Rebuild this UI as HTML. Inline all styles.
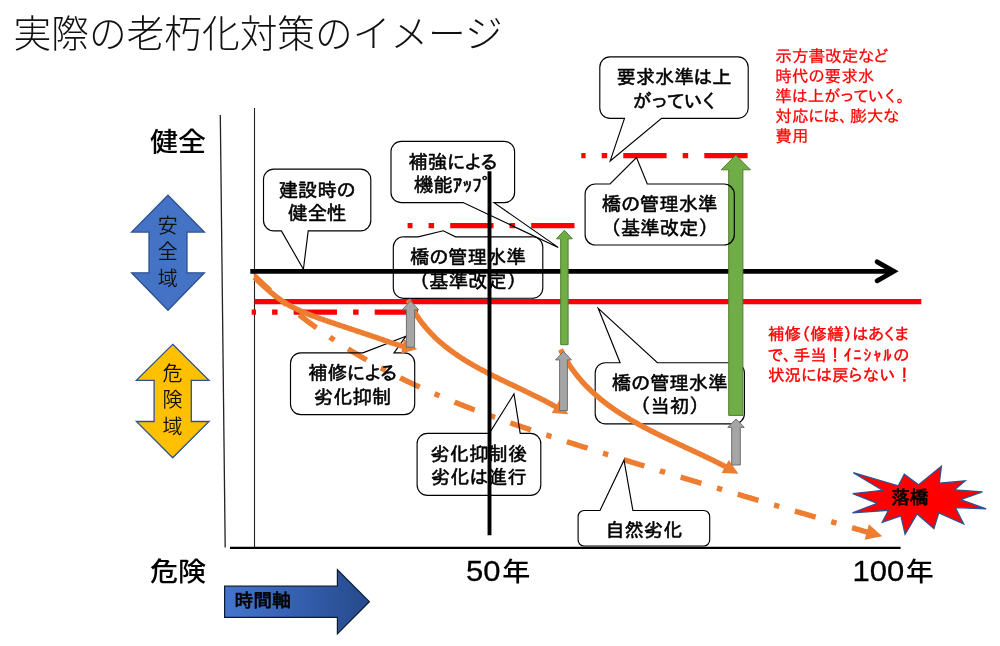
<!DOCTYPE html>
<html lang="ja"><head><meta charset="utf-8"><title>実際の老朽化対策のイメージ</title>
<style>
html,body{margin:0;padding:0;background:#fff;}
body{width:1000px;height:646px;overflow:hidden;font-family:"Liberation Sans","Noto Sans CJK JP",sans-serif;}
svg{display:block;filter:opacity(1);}
</style></head><body>
<svg width="1000" height="646" viewBox="0 0 1000 646">
<defs>
<linearGradient id="tg" x1="0" y1="0" x2="1" y2="0"><stop offset="0" stop-color="#4475CC"/><stop offset="0.5" stop-color="#3560B0"/><stop offset="1" stop-color="#25498A"/></linearGradient>
</defs>
<rect width="1000" height="646" fill="#fff"/>
<text x="13.5" y="46.5" font-size="37.7" font-weight="300" text-anchor="start" fill="#111" font-family='"Liberation Sans","Noto Sans CJK JP",sans-serif' >実際の老朽化対策のイメージ</text>
<line x1="220.3" y1="115" x2="225.2" y2="547.5" stroke="#222" stroke-width="1.3"/>
<line x1="254.5" y1="108" x2="254.5" y2="548" stroke="#222" stroke-width="1.1"/>
<line x1="230" y1="547.9" x2="900.6" y2="547.9" stroke="#000" stroke-width="2.2"/>
<text transform="translate(178,151.2) scale(1,0.935)" font-size="28" font-weight="500" text-anchor="middle" fill="#000" font-family='"Liberation Sans","Noto Sans CJK JP",sans-serif'>健全</text>
<text transform="translate(178,580.8) scale(1,0.935)" font-size="28" font-weight="500" text-anchor="middle" fill="#000" font-family='"Liberation Sans","Noto Sans CJK JP",sans-serif'>危険</text>
<text transform="translate(466.0,580.8) scale(1.04,1)" font-size="29.8" fill="#000" stroke="#000" stroke-width="0.3" font-family='"Liberation Sans","Noto Sans CJK JP",sans-serif'>50</text>
<text transform="translate(502.3,581.0) scale(1,0.935)" font-size="28" font-weight="500" text-anchor="start" fill="#000" font-family='"Liberation Sans","Noto Sans CJK JP",sans-serif'>年</text>
<text transform="translate(852.6,580.8) scale(1.04,1)" font-size="29.8" fill="#000" stroke="#000" stroke-width="0.3" font-family='"Liberation Sans","Noto Sans CJK JP",sans-serif'>100</text>
<text transform="translate(905.8,581.0) scale(1,0.935)" font-size="28" font-weight="500" text-anchor="start" fill="#000" font-family='"Liberation Sans","Noto Sans CJK JP",sans-serif'>年</text>
<line x1="254.5" y1="301.6" x2="921.3" y2="301.6" stroke="#FF0000" stroke-width="5.4"/>
<line x1="418" y1="312.2" x2="251.7" y2="312.2" stroke="#FF0000" stroke-width="5.3" stroke-dasharray="43.3 16.1 5.5 16.1"/>
<line x1="574.5" y1="225.6" x2="407.6" y2="225.6" stroke="#FF0000" stroke-width="5.3" stroke-dasharray="43.3 16.1 5.5 16.1"/>
<line x1="747.6" y1="155.7" x2="581.3" y2="155.7" stroke="#FF0000" stroke-width="5.3" stroke-dasharray="43.3 16.1 5.5 16.1"/>
<path d="M254.0,277.0 L255.6,276.7 L256.4,277.5 L257.2,278.3 L258.0,279.1 L258.9,279.9 L259.7,280.7 L260.5,281.5 L261.4,282.3 L262.2,283.1 L263.0,283.9 L263.9,284.6 L264.7,285.4 L265.6,286.2 L266.4,287.0 L267.2,287.8 L268.1,288.6 L268.9,289.3 L269.8,290.1 L270.6,290.9 L271.5,291.7 L272.3,292.4 L273.2,293.2 L274.1,294.0 L274.9,294.7 L275.8,295.5 L276.6,296.2 L277.5,297.0 L278.4,297.8 L279.2,298.5 L280.1,299.3 L281.0,300.0 L281.9,300.8 L282.7,301.5 L283.6,302.2 L284.5,303.0 L285.4,303.7 L286.2,304.5 L287.1,305.2 L288.0,305.9 L288.9,306.6 L289.8,307.4 L290.7,308.1 L291.6,308.8 L292.5,309.5 L293.3,310.3 L294.2,311.0 L295.1,311.7 L296.0,312.4 L296.9,313.1 L297.8,313.8 L298.7,314.5 L299.6,315.2 L300.5,315.9 L301.4,316.6 L302.4,317.3 L303.3,318.0 L304.2,318.7 L305.1,319.4 L306.0,320.1 L306.9,320.8 L307.8,321.5 L308.8,322.2 L309.7,322.9 L310.6,323.5 L311.5,324.2 L312.4,324.9 L313.4,325.6 L314.3,326.2 L315.2,326.9 L316.1,327.6 L317.1,328.3 L318.0,328.9 L318.9,329.6 L319.9,330.2 L320.8,330.9 L321.8,331.6 L322.7,332.2 L323.6,332.9 L324.6,333.5 L325.5,334.2 L326.5,334.8 L327.4,335.5 L328.4,336.1 L329.3,336.7 L330.2,337.4 L331.2,338.0 L332.1,338.7 L333.1,339.3 L334.1,339.9 L335.0,340.5 L336.0,341.2 L336.9,341.8 L337.9,342.4 L338.8,343.0 L339.8,343.7 L340.8,344.3 L341.7,344.9 L342.7,345.5 L343.7,346.1 L344.6,346.7 L345.6,347.4 L346.6,348.0 L347.5,348.6 L348.5,349.2 L349.5,349.8 L350.5,350.4 L351.4,351.0 L352.4,351.6 L353.4,352.2 L354.4,352.7 L355.3,353.3 L356.3,353.9 L357.3,354.5 L358.3,355.1 L359.3,355.7 L360.3,356.3 L361.3,356.8 L362.2,357.4 L363.2,358.0 L364.2,358.6 L365.2,359.1 L366.2,359.7 L367.2,360.3 L368.2,360.8 L369.2,361.4 L370.2,362.0 L371.2,362.5 L372.2,363.1 L373.2,363.6 L374.2,364.2 L375.2,364.7 L376.2,365.3 L377.2,365.8 L378.2,366.4 L379.2,366.9 L380.2,367.5 L381.2,368.0 L382.2,368.6 L383.2,369.1 L384.2,369.6 L385.2,370.2 L386.3,370.7 L387.3,371.2 L388.3,371.8 L389.3,372.3 L390.3,372.8 L391.3,373.3 L392.3,373.9 L393.4,374.4 L394.4,374.9 L395.4,375.4 L396.4,375.9 L397.4,376.4 L398.5,377.0 L399.5,377.5 L400.5,378.0 L401.5,378.5 L402.6,379.0 L403.6,379.5 L404.6,380.0 L405.7,380.5 L406.7,381.0 L407.7,381.5 L408.7,382.0 L409.8,382.5 L410.8,383.0 L411.8,383.4 L412.9,383.9 L413.9,384.4 L414.9,384.9 L416.0,385.4 L417.0,385.9 L418.1,386.3 L419.1,386.8 L420.1,387.3 L421.2,387.8 L422.2,388.2 L423.3,388.7 L424.3,389.2 L425.3,389.6 L426.4,390.1 L427.4,390.6 L428.5,391.0 L429.5,391.5 L430.6,392.0 L431.6,392.4 L432.7,392.9 L433.7,393.3 L434.8,393.8 L435.8,394.2 L436.9,394.7 L437.9,395.1 L439.0,395.6 L440.0,396.0 L441.1,396.5 L442.1,396.9 L443.2,397.4 L444.2,397.8 L445.3,398.3 L446.3,398.7 L447.4,399.1 L448.5,399.6 L449.5,400.0 L450.6,400.4 L451.6,400.9 L452.7,401.3 L453.8,401.7 L454.8,402.2 L455.9,402.6 L456.9,403.0 L458.0,403.4 L459.1,403.9 L460.1,404.3 L461.2,404.7 L462.3,405.1 L463.3,405.5 L464.4,406.0 L465.5,406.4 L466.5,406.8 L467.6,407.2 L468.7,407.6 L469.7,408.0 L470.8,408.4 L471.9,408.9 L472.9,409.3 L474.0,409.7 L475.1,410.1 L476.1,410.5 L477.2,410.9 L478.3,411.3 L479.4,411.7 L480.4,412.1 L481.5,412.5 L482.6,412.9 L483.7,413.3 L484.7,413.7 L485.8,414.1 L486.9,414.5 L488.0,414.9 L489.0,415.3 L490.1,415.7 L491.2,416.1 L492.3,416.4 L493.4,416.8 L494.4,417.2 L495.5,417.6 L496.6,418.0 L497.7,418.4 L498.7,418.8 L499.8,419.2 L500.9,419.5 L502.0,419.9 L503.1,420.3 L504.2,420.7 L505.2,421.1 L506.3,421.4 L507.4,421.8 L508.5,422.2 L509.6,422.6 L510.7,423.0 L511.7,423.3 L512.8,423.7 L513.9,424.1 L515.0,424.5 L516.1,424.8 L517.2,425.2 L518.2,425.6 L519.3,425.9 L520.4,426.3 L521.5,426.7 L522.6,427.1 L523.7,427.4 L524.8,427.8 L525.9,428.2 L526.9,428.5 L528.0,428.9 L529.1,429.3 L530.2,429.6 L531.3,430.0 L532.4,430.3 L533.5,430.7 L534.6,431.1 L535.7,431.4 L536.7,431.8 L537.8,432.2 L538.9,432.5 L540.0,432.9 L541.1,433.2 L542.2,433.6 L543.3,434.0 L544.4,434.3 L545.5,434.7 L546.6,435.0 L547.6,435.4 L548.7,435.7 L549.8,436.1 L550.9,436.5 L552.0,436.8 L553.1,437.2 L554.2,437.5 L555.3,437.9 L556.4,438.2 L557.5,438.6 L558.6,438.9 L559.6,439.3 L560.7,439.6 L561.8,440.0 L562.9,440.3 L564.0,440.7 L565.1,441.1 L566.2,441.4 L567.3,441.8 L568.4,442.1 L569.5,442.5 L570.6,442.8 L571.7,443.2 L572.8,443.5 L573.8,443.9 L574.9,444.2 L576.0,444.6 L577.1,444.9 L578.2,445.3 L579.3,445.6 L580.4,446.0 L581.5,446.3 L582.6,446.7 L583.7,447.0 L584.8,447.3 L585.9,447.7 L587.0,448.0 L588.1,448.4 L589.1,448.7 L590.2,449.1 L591.3,449.4 L592.4,449.8 L593.5,450.1 L594.6,450.5 L595.7,450.8 L596.8,451.2 L597.9,451.5 L599.0,451.9 L600.1,452.2 L601.2,452.5 L602.3,452.9 L603.4,453.2 L604.4,453.6 L605.5,453.9 L606.6,454.3 L607.7,454.6 L608.8,454.9 L609.9,455.3 L611.0,455.6 L612.1,456.0 L613.2,456.3 L614.3,456.7 L615.4,457.0 L616.5,457.3 L617.6,457.7 L618.7,458.0 L619.8,458.4 L620.9,458.7 L621.9,459.1 L623.0,459.4 L624.1,459.7 L625.2,460.1 L626.3,460.4 L627.4,460.8 L628.5,461.1 L629.6,461.4 L630.7,461.8 L631.8,462.1 L632.9,462.5 L634.0,462.8 L635.1,463.1 L636.2,463.5 L637.3,463.8 L638.4,464.2 L639.4,464.5 L640.5,464.8 L641.6,465.2 L642.7,465.5 L643.8,465.8 L644.9,466.2 L646.0,466.5 L647.1,466.9 L648.2,467.2 L649.3,467.5 L650.4,467.9 L651.5,468.2 L652.6,468.5 L653.7,468.9 L654.8,469.2 L655.9,469.5 L657.0,469.9 L658.1,470.2 L659.1,470.5 L660.2,470.9 L661.3,471.2 L662.4,471.6 L663.5,471.9 L664.6,472.2 L665.7,472.6 L666.8,472.9 L667.9,473.2 L669.0,473.6 L670.1,473.9 L671.2,474.2 L672.3,474.6 L673.4,474.9 L674.5,475.2 L675.6,475.6 L676.7,475.9 L677.8,476.2 L678.9,476.6 L680.0,476.9 L681.1,477.2 L682.1,477.6 L683.2,477.9 L684.3,478.2 L685.4,478.6 L686.5,478.9 L687.6,479.2 L688.7,479.5 L689.8,479.9 L690.9,480.2 L692.0,480.5 L693.1,480.9 L694.2,481.2 L695.3,481.5 L696.4,481.9 L697.5,482.2 L698.6,482.5 L699.7,482.9 L700.8,483.2 L701.9,483.5 L703.0,483.8 L704.1,484.2 L705.2,484.5 L706.3,484.8 L707.4,485.2 L708.4,485.5 L709.5,485.8 L710.6,486.1 L711.7,486.5 L712.8,486.8 L713.9,487.1 L715.0,487.5 L716.1,487.8 L717.2,488.1 L718.3,488.4 L719.4,488.8 L720.5,489.1 L721.6,489.4 L722.7,489.8 L723.8,490.1 L724.9,490.4 L726.0,490.7 L727.1,491.1 L728.2,491.4 L729.3,491.7 L730.4,492.0 L731.5,492.4 L732.6,492.7 L733.7,493.0 L734.8,493.3 L735.9,493.7 L737.0,494.0 L738.1,494.3 L739.2,494.7 L740.3,495.0 L741.4,495.3 L742.5,495.6 L743.6,496.0 L744.6,496.3 L745.7,496.6 L746.8,496.9 L747.9,497.3 L749.0,497.6 L750.1,497.9 L751.2,498.2 L752.3,498.6 L753.4,498.9 L754.5,499.2 L755.6,499.5 L756.7,499.9 L757.8,500.2 L758.9,500.5 L760.0,500.8 L761.1,501.1 L762.2,501.5 L763.3,501.8 L764.4,502.1 L765.5,502.4 L766.6,502.8 L767.7,503.1 L768.8,503.4 L769.9,503.7 L771.0,504.1 L772.1,504.4 L773.2,504.7 L774.3,505.0 L775.4,505.3 L776.5,505.7 L777.6,506.0 L778.7,506.3 L779.8,506.6 L780.9,507.0 L782.0,507.3 L783.1,507.6 L784.2,507.9 L785.3,508.3 L786.4,508.6 L787.5,508.9 L788.6,509.2 L789.7,509.5 L790.8,509.9 L791.9,510.2 L793.0,510.5 L794.1,510.8 L795.2,511.1 L796.3,511.5 L797.4,511.8 L798.5,512.1 L799.6,512.4 L800.7,512.8 L801.8,513.1 L802.9,513.4 L804.0,513.7 L805.1,514.0 L806.2,514.4 L807.3,514.7 L808.4,515.0 L809.5,515.3 L810.6,515.6 L811.7,516.0 L812.8,516.3 L813.9,516.6 L815.0,516.9 L816.1,517.2 L817.2,517.6 L818.3,517.9 L819.4,518.2 L820.5,518.5 L821.6,518.8 L822.7,519.2 L823.8,519.5 L824.9,519.8 L826.0,520.1 L827.1,520.4 L828.2,520.8 L829.3,521.1 L830.4,521.4 L831.5,521.7 L832.6,522.0 L833.7,522.4 L834.8,522.7 L835.9,523.0 L837.0,523.3 L838.1,523.6 L839.2,524.0 L840.3,524.3 L841.4,524.6 L842.5,524.9 L843.6,525.2 L844.7,525.6 L845.8,525.9 L846.9,526.2 L848.0,526.5 L849.1,526.8 L850.2,527.2 L851.3,527.5 L852.4,527.8 L853.5,528.1 L854.6,528.4 L855.7,528.8 L856.8,529.1 L857.9,529.4 L859.0,529.7 L860.1,530.0 L861.2,530.3 L862.3,530.7 L863.4,531.0 L864.5,531.3 L865.6,531.6 L866.8,531.9 L867.8,532.2" fill="none" stroke="#ED7D31" stroke-width="5.4" stroke-linejoin="round" stroke-dasharray="21.68 16.26 5.42 16.26"/>
<polygon points="882.2,536.2 864.7,539.7 868.9,524.2" fill="#ED7D31" stroke="none" stroke-width="0" stroke-linejoin="miter" />
<path d="M273.8,169.1 L360.5,169.1 A10.3,10.3 0 0 1 370.8,179.4 L370.8,220.6 A10.3,10.3 0 0 1 360.5,230.9 L308.2,230.9 L303.4,269.3 L281.4,230.9 L273.8,230.9 A10.3,10.3 0 0 1 263.5,220.6 L263.5,179.4 A10.3,10.3 0 0 1 273.8,169.1 Z" fill="none" stroke="#000" stroke-width="1.15" stroke-linejoin="miter" stroke-miterlimit="10"/>
<text x="317.1" y="196.7" font-size="19.36" text-anchor="middle" fill="#000" stroke="#000" stroke-width="0.55" stroke-linejoin="round" font-family='"Liberation Sans","IPAPGothic","IPAGothic","Noto Sans CJK JP",sans-serif'>建設時の</text>
<text x="317.1" y="220.0" font-size="19.36" text-anchor="middle" fill="#000" stroke="#000" stroke-width="0.55" stroke-linejoin="round" font-family='"Liberation Sans","IPAPGothic","IPAGothic","Noto Sans CJK JP",sans-serif'>健全性</text>
<path d="M401.2,141.4 L504.4,141.4 A10.2,10.2 0 0 1 514.6,151.6 L514.6,192.4 A10.2,10.2 0 0 1 504.4,202.6 L494.0,202.6 L558.2,247.4 L463.1,202.6 L401.2,202.6 A10.2,10.2 0 0 1 391.0,192.4 L391.0,151.6 A10.2,10.2 0 0 1 401.2,141.4 Z" fill="none" stroke="#000" stroke-width="1.15" stroke-linejoin="miter" stroke-miterlimit="10"/>
<text x="452.8" y="168.7" font-size="19.36" text-anchor="middle" fill="#000" stroke="#000" stroke-width="0.55" stroke-linejoin="round" font-family='"Liberation Sans","IPAPGothic","IPAGothic","Noto Sans CJK JP",sans-serif'>補強による</text>
<text x="452.8" y="192.0" font-size="19.36" text-anchor="middle" fill="#000" stroke="#000" stroke-width="0.55" stroke-linejoin="round" font-family='"Liberation Sans","IPAPGothic","IPAGothic","Noto Sans CJK JP",sans-serif'>機能ｱｯﾌﾟ</text>
<path d="M403.6,236.8 L418.2,236.8 L443.2,230.8 L455.6,236.8 L532.5,236.8 A10.2,10.2 0 0 1 542.8,247.1 L542.8,288.1 A10.2,10.2 0 0 1 532.5,298.3 L403.6,298.3 A10.2,10.2 0 0 1 393.3,288.1 L393.3,247.1 A10.2,10.2 0 0 1 403.6,236.8 Z" fill="none" stroke="#000" stroke-width="1.15" stroke-linejoin="miter" stroke-miterlimit="10"/>
<text x="468.0" y="264.2" font-size="19.36" text-anchor="middle" fill="#000" stroke="#000" stroke-width="0.55" stroke-linejoin="round" font-family='"Liberation Sans","IPAPGothic","IPAGothic","Noto Sans CJK JP",sans-serif'>橋の管理水準</text>
<text x="468.0" y="287.6" font-size="19.36" text-anchor="middle" fill="#000" stroke="#000" stroke-width="0.55" stroke-linejoin="round" font-family='"Liberation Sans","IPAPGothic","IPAGothic","Noto Sans CJK JP",sans-serif'>（基準改定）</text>
<path d="M300.8,352.8 L362.9,352.8 L406.0,336.2 L394.0,352.8 L404.4,352.8 A10.3,10.3 0 0 1 414.7,363.1 L414.7,404.3 A10.3,10.3 0 0 1 404.4,414.6 L300.8,414.6 A10.3,10.3 0 0 1 290.5,404.3 L290.5,363.1 A10.3,10.3 0 0 1 300.8,352.8 Z" fill="none" stroke="#000" stroke-width="1.15" stroke-linejoin="miter" stroke-miterlimit="10"/>
<text x="352.6" y="380.4" font-size="19.36" text-anchor="middle" fill="#000" stroke="#000" stroke-width="0.55" stroke-linejoin="round" font-family='"Liberation Sans","IPAPGothic","IPAGothic","Noto Sans CJK JP",sans-serif'>補修による</text>
<text x="352.6" y="403.7" font-size="19.36" text-anchor="middle" fill="#000" stroke="#000" stroke-width="0.55" stroke-linejoin="round" font-family='"Liberation Sans","IPAPGothic","IPAGothic","Noto Sans CJK JP",sans-serif'>劣化抑制</text>
<path d="M427.4,433.3 L489.3,433.3 L514.0,393.9 L520.2,433.3 L530.5,433.3 A10.3,10.3 0 0 1 540.8,443.6 L540.8,485.0 A10.3,10.3 0 0 1 530.5,495.3 L427.4,495.3 A10.3,10.3 0 0 1 417.1,485.0 L417.1,443.6 A10.3,10.3 0 0 1 427.4,433.3 Z" fill="none" stroke="#000" stroke-width="1.15" stroke-linejoin="miter" stroke-miterlimit="10"/>
<text x="478.9" y="461.0" font-size="19.36" text-anchor="middle" fill="#000" stroke="#000" stroke-width="0.55" stroke-linejoin="round" font-family='"Liberation Sans","IPAPGothic","IPAGothic","Noto Sans CJK JP",sans-serif'>劣化抑制後</text>
<text x="478.9" y="484.3" font-size="19.36" text-anchor="middle" fill="#000" stroke="#000" stroke-width="0.55" stroke-linejoin="round" font-family='"Liberation Sans","IPAPGothic","IPAGothic","Noto Sans CJK JP",sans-serif'>劣化は進行</text>
<path d="M605.4,362.7 L620.1,362.7 L598.2,308.3 L657.4,362.7 L734.2,362.7 A10.2,10.2 0 0 1 744.4,372.9 L744.4,413.7 A10.2,10.2 0 0 1 734.2,423.9 L605.4,423.9 A10.2,10.2 0 0 1 595.2,413.7 L595.2,372.9 A10.2,10.2 0 0 1 605.4,362.7 Z" fill="none" stroke="#000" stroke-width="1.15" stroke-linejoin="miter" stroke-miterlimit="10"/>
<text x="669.8" y="390.0" font-size="19.36" text-anchor="middle" fill="#000" stroke="#000" stroke-width="0.55" stroke-linejoin="round" font-family='"Liberation Sans","IPAPGothic","IPAGothic","Noto Sans CJK JP",sans-serif'>橋の管理水準</text>
<text x="669.8" y="413.3" font-size="19.36" text-anchor="middle" fill="#000" stroke="#000" stroke-width="0.55" stroke-linejoin="round" font-family='"Liberation Sans","IPAPGothic","IPAGothic","Noto Sans CJK JP",sans-serif'>（当初）</text>
<path d="M584.0,510.5 L600.0,510.5 L624.0,460.2 L632.9,510.5 L703.8,510.5 A5.9,5.9 0 0 1 709.7,516.4 L709.7,540.1 A5.9,5.9 0 0 1 703.8,546.0 L584.0,546.0 A5.9,5.9 0 0 1 578.1,540.1 L578.1,516.4 A5.9,5.9 0 0 1 584.0,510.5 Z" fill="none" stroke="#000" stroke-width="1.15" stroke-linejoin="miter" stroke-miterlimit="10"/>
<text x="643.9" y="536.9" font-size="19.36" text-anchor="middle" fill="#000" stroke="#000" stroke-width="0.55" stroke-linejoin="round" font-family='"Liberation Sans","IPAPGothic","IPAGothic","Noto Sans CJK JP",sans-serif'>自然劣化</text>
<path d="M610.0,56.9 L738.0,56.9 A10.3,10.3 0 0 1 748.2,67.2 L748.2,108.2 A10.3,10.3 0 0 1 738.0,118.4 L661.6,118.4 L610.2,160.9 L624.5,118.4 L610.0,118.4 A10.3,10.3 0 0 1 599.8,108.2 L599.8,67.2 A10.3,10.3 0 0 1 610.0,56.9 Z" fill="none" stroke="#000" stroke-width="1.15" stroke-linejoin="miter" stroke-miterlimit="10"/>
<text x="674.0" y="84.4" font-size="19.36" text-anchor="middle" fill="#000" stroke="#000" stroke-width="0.55" stroke-linejoin="round" font-family='"Liberation Sans","IPAPGothic","IPAGothic","Noto Sans CJK JP",sans-serif'>要求水準は上</text>
<text x="674.0" y="107.7" font-size="19.36" text-anchor="middle" fill="#000" stroke="#000" stroke-width="0.55" stroke-linejoin="round" font-family='"Liberation Sans","IPAPGothic","IPAGothic","Noto Sans CJK JP",sans-serif'>がっていく</text>
<path d="M254.4,277.3 L255.0,277.9 L255.7,278.5 L256.3,279.2 L257.0,279.8 L257.6,280.4 L258.3,281.0 L258.9,281.6 L259.6,282.3 L260.3,282.9 L260.9,283.5 L261.6,284.1 L262.3,284.7 L262.9,285.4 L263.6,286.0 L264.3,286.6 L264.9,287.2 L265.6,287.8 L266.3,288.4 L267.0,289.0 L267.7,289.6 L268.4,290.2 L269.1,290.8 L269.7,291.4 L270.4,292.0 L271.1,292.6 L271.8,293.2 L272.6,293.8 L273.3,294.3 L274.0,294.9 L274.7,295.5 L275.4,296.0 L276.1,296.6 L276.9,297.2 L277.6,297.7 L278.3,298.2 L279.1,298.8 L279.8,299.3 L280.5,299.8 L281.3,300.4 L282.0,300.9 L282.8,301.4 L283.5,301.9 L284.3,302.4 L285.1,302.8 L285.8,303.3 L286.6,303.8 L287.4,304.3 L288.2,304.7 L288.9,305.2 L289.7,305.6 L290.5,306.0 L291.3,306.5 L292.1,306.9 L292.9,307.3 L293.7,307.7 L294.5,308.1 L295.3,308.5 L296.1,308.9 L296.9,309.3 L297.8,309.7 L298.6,310.1 L299.4,310.4 L300.2,310.8 L301.1,311.2 L301.9,311.5 L302.7,311.9 L303.5,312.2 L304.4,312.6 L305.2,312.9 L306.1,313.3 L306.9,313.6 L307.7,314.0 L308.6,314.3 L309.4,314.6 L310.3,314.9 L311.1,315.3 L312.0,315.6 L312.8,315.9 L313.7,316.2 L314.5,316.5 L315.4,316.8 L316.2,317.1 L317.1,317.5 L317.9,317.8 L318.8,318.1 L319.6,318.4 L320.5,318.7 L321.3,319.0 L322.2,319.3 L323.1,319.6 L323.9,319.9 L324.8,320.2 L325.6,320.5 L326.5,320.8 L327.3,321.1 L328.2,321.4 L329.1,321.7 L329.9,322.0 L330.8,322.2 L331.6,322.5 L332.5,322.8 L333.4,323.1 L334.2,323.4 L335.1,323.7 L335.9,324.0 L336.8,324.3 L337.7,324.6 L338.5,324.9 L339.4,325.2 L340.2,325.4 L341.1,325.7 L342.0,326.0 L342.8,326.3 L343.7,326.6 L344.5,326.9 L345.4,327.2 L346.3,327.5 L347.1,327.7 L348.0,328.0 L348.8,328.3 L349.7,328.6 L350.6,328.9 L351.4,329.2 L352.3,329.5 L353.2,329.7 L354.0,330.0 L354.9,330.3 L355.7,330.6 L356.6,330.9 L357.5,331.2 L358.3,331.5 L359.2,331.7 L360.0,332.0 L360.9,332.3 L361.8,332.6 L362.6,332.9 L363.5,333.2 L364.3,333.5 L365.2,333.8 L366.1,334.0 L366.9,334.3 L367.8,334.6 L368.6,334.9 L369.5,335.2 L370.4,335.5 L371.2,335.8 L372.1,336.1 L372.9,336.4 L373.8,336.7 L374.7,337.0 L375.5,337.2 L376.4,337.5 L377.2,337.8 L378.1,338.1 L379.0,338.4 L379.8,338.7 L380.7,339.0 L381.5,339.3 L382.4,339.6 L383.2,339.9 L384.1,340.2 L384.9,340.5 L385.8,340.8 L386.7,341.1 L387.5,341.4 L388.4,341.7 L389.2,342.0 L390.1,342.3 L390.9,342.6 L391.8,342.9 L392.7,343.2 L393.5,343.5 L394.4,343.7 L395.2,344.0 L396.1,344.3 L397.0,344.6 L397.8,344.8 L398.7,345.1 L399.6,345.3 L400.4,345.6 L401.3,345.8 L402.2,346.1 L403.1,346.3 L403.6,346.5" fill="none" stroke="#ED7D31" stroke-width="5.4" stroke-linejoin="round"/>
<polygon points="417.3,349.2 401.1,353.6 404.1,338.9" fill="#ED7D31" stroke="none" stroke-width="0" stroke-linejoin="miter" />
<path d="M408.0,299.8 L408.6,301.0 L409.2,302.2 L409.8,303.4 L410.4,304.6 L411.0,305.8 L411.6,306.9 L412.2,308.1 L412.9,309.2 L413.5,310.4 L414.2,311.5 L414.9,312.6 L415.5,313.7 L416.2,314.8 L416.9,315.8 L417.7,316.9 L418.4,317.9 L419.1,319.0 L419.8,320.0 L420.6,321.0 L421.3,322.1 L422.1,323.1 L422.9,324.0 L423.7,325.0 L424.5,326.0 L425.3,327.0 L426.1,327.9 L426.9,328.9 L427.7,329.8 L428.5,330.7 L429.4,331.6 L430.2,332.5 L431.1,333.4 L431.9,334.3 L432.8,335.2 L433.7,336.1 L434.6,337.0 L435.4,337.8 L436.3,338.7 L437.2,339.5 L438.2,340.3 L439.1,341.2 L440.0,342.0 L440.9,342.8 L441.9,343.6 L442.8,344.4 L443.8,345.2 L444.7,346.0 L445.7,346.7 L446.7,347.5 L447.6,348.3 L448.6,349.0 L449.6,349.8 L450.6,350.5 L451.6,351.2 L452.6,352.0 L453.6,352.7 L454.6,353.4 L455.6,354.1 L456.7,354.8 L457.7,355.5 L458.7,356.2 L459.8,356.9 L460.8,357.6 L461.8,358.3 L462.9,358.9 L464.0,359.6 L465.0,360.3 L466.1,360.9 L467.1,361.6 L468.2,362.2 L469.3,362.9 L470.4,363.5 L471.5,364.1 L472.6,364.8 L473.6,365.4 L474.7,366.0 L475.8,366.6 L476.9,367.2 L478.0,367.8 L479.2,368.5 L480.3,369.1 L481.4,369.7 L482.5,370.3 L483.6,370.8 L484.7,371.4 L485.9,372.0 L487.0,372.6 L488.1,373.2 L489.3,373.8 L490.4,374.3 L491.5,374.9 L492.7,375.5 L493.8,376.1 L494.9,376.6 L496.1,377.2 L497.2,377.8 L498.4,378.3 L499.5,378.9 L500.7,379.4 L501.8,380.0 L503.0,380.6 L504.1,381.1 L505.3,381.7 L506.4,382.2 L507.6,382.8 L508.7,383.3 L509.9,383.9 L511.1,384.4 L512.2,385.0 L513.4,385.5 L514.5,386.1 L515.7,386.6 L516.8,387.2 L518.0,387.7 L519.2,388.3 L520.3,388.8 L521.5,389.4 L522.6,389.9 L523.8,390.5 L524.9,391.0 L526.1,391.6 L527.2,392.1 L528.4,392.7 L529.5,393.2 L530.7,393.8 L531.8,394.4 L533.0,394.9 L534.1,395.5 L535.3,396.1 L536.4,396.6 L537.6,397.2 L538.7,397.8 L539.8,398.3 L541.0,398.9 L542.1,399.5 L543.2,400.1 L544.4,400.6 L545.5,401.2 L546.6,401.8 L547.7,402.4 L548.8,403.0 L550.0,403.6 L551.1,404.2 L552.2,404.8 L553.3,405.4 L554.4,406.0 L555.5,406.6 L556.4,407.1" fill="none" stroke="#ED7D31" stroke-width="5.4" stroke-linejoin="round"/>
<polygon points="568.4,414.3 551.7,413.1 559.3,400.2" fill="#ED7D31" stroke="none" stroke-width="0" stroke-linejoin="miter" />
<path d="M560.5,349.5 L561.2,350.8 L561.8,352.1 L562.5,353.4 L563.2,354.7 L563.9,356.0 L564.6,357.2 L565.3,358.5 L566.0,359.7 L566.8,360.9 L567.5,362.1 L568.3,363.3 L569.0,364.5 L569.8,365.7 L570.6,366.9 L571.4,368.0 L572.2,369.2 L573.0,370.3 L573.9,371.4 L574.7,372.5 L575.5,373.6 L576.4,374.7 L577.3,375.8 L578.1,376.9 L579.0,377.9 L579.9,379.0 L580.8,380.0 L581.7,381.1 L582.6,382.1 L583.5,383.1 L584.5,384.1 L585.4,385.1 L586.4,386.1 L587.3,387.1 L588.3,388.0 L589.3,389.0 L590.2,389.9 L591.2,390.9 L592.2,391.8 L593.2,392.7 L594.2,393.7 L595.3,394.6 L596.3,395.5 L597.3,396.4 L598.4,397.2 L599.4,398.1 L600.5,399.0 L601.5,399.9 L602.6,400.7 L603.7,401.6 L604.7,402.4 L605.8,403.2 L606.9,404.1 L608.0,404.9 L609.1,405.7 L610.2,406.5 L611.3,407.3 L612.4,408.1 L613.6,408.9 L614.7,409.7 L615.8,410.4 L617.0,411.2 L618.1,412.0 L619.3,412.7 L620.4,413.5 L621.6,414.2 L622.8,414.9 L623.9,415.7 L625.1,416.4 L626.3,417.1 L627.5,417.8 L628.7,418.6 L629.8,419.3 L631.0,420.0 L632.2,420.7 L633.4,421.4 L634.7,422.0 L635.9,422.7 L637.1,423.4 L638.3,424.1 L639.5,424.8 L640.7,425.4 L642.0,426.1 L643.2,426.8 L644.4,427.4 L645.7,428.1 L646.9,428.7 L648.2,429.4 L649.4,430.0 L650.7,430.6 L651.9,431.3 L653.2,431.9 L654.4,432.5 L655.7,433.2 L656.9,433.8 L658.2,434.4 L659.5,435.0 L660.7,435.7 L662.0,436.3 L663.3,436.9 L664.5,437.5 L665.8,438.1 L667.1,438.7 L668.3,439.3 L669.6,439.9 L670.9,440.5 L672.2,441.1 L673.4,441.7 L674.7,442.3 L676.0,442.9 L677.3,443.5 L678.6,444.1 L679.8,444.7 L681.1,445.3 L682.4,445.9 L683.7,446.5 L684.9,447.1 L686.2,447.7 L687.5,448.3 L688.8,448.9 L690.1,449.5 L691.3,450.0 L692.6,450.6 L693.9,451.2 L695.2,451.8 L696.4,452.4 L697.7,453.0 L699.0,453.6 L700.2,454.2 L701.5,454.8 L702.8,455.4 L704.0,456.0 L705.3,456.6 L706.6,457.2 L707.8,457.8 L709.1,458.4 L710.3,459.0 L711.6,459.6 L712.8,460.2 L714.1,460.9 L715.3,461.5 L716.6,462.1 L717.8,462.7 L719.1,463.3 L720.3,464.0 L721.5,464.6 L722.8,465.2 L724.0,465.8 L725.2,466.5 L726.1,467.0" fill="none" stroke="#ED7D31" stroke-width="5.4" stroke-linejoin="round"/>
<polygon points="738.4,473.7 721.6,473.1 728.8,459.9" fill="#ED7D31" stroke="none" stroke-width="0" stroke-linejoin="miter" />
<polygon points="410.5,300.8 418.7,309.8 414.6,309.8 414.6,347.2 406.4,347.2 406.4,309.8 402.3,309.8" fill="#A5A5A5" stroke="#6f6f6f" stroke-width="1" stroke-linejoin="miter" />
<polygon points="563.5,351.5 571.5,359.9 567.4,359.9 567.4,410.5 559.6,410.5 559.6,359.9 555.5,359.9" fill="#A5A5A5" stroke="#6f6f6f" stroke-width="1" stroke-linejoin="miter" />
<polygon points="736.0,419.0 744.2,427.4 740.3,427.4 740.3,465.0 731.7,465.0 731.7,427.4 727.8,427.4" fill="#A5A5A5" stroke="#6f6f6f" stroke-width="1" stroke-linejoin="miter" />
<line x1="489.5" y1="171.3" x2="489.5" y2="535.2" stroke="#000" stroke-width="3.9"/>
<line x1="250.3" y1="271.3" x2="893" y2="271.3" stroke="#000" stroke-width="4.8"/>
<polyline points="877.1,261.8 893.8,271.3 877.1,280.8" fill="none" stroke="#000" stroke-width="4.8" stroke-linecap="round" stroke-linejoin="miter" stroke-miterlimit="10"/>
<polygon points="564.4,230.2 572.3,238.8 568.1,238.8 568.1,344.7 560.7,344.7 560.7,238.8 556.5,238.8" fill="#70AD47" stroke="#507E32" stroke-width="1" stroke-linejoin="miter" />
<polygon points="735.8,155.1 750.4,169.8 742.9,169.8 742.9,415.4 728.7,415.4 728.7,169.8 721.2,169.8" fill="#70AD47" stroke="#507E32" stroke-width="1" stroke-linejoin="miter" />
<path d="M595.3,184.0 L610.0,184.0 L636.5,157.6 L647.3,184.0 L724.1,184.0 A10.2,10.2 0 0 1 734.3,194.2 L734.3,234.8 A10.2,10.2 0 0 1 724.1,245.0 L595.3,245.0 A10.2,10.2 0 0 1 585.1,234.8 L585.1,194.2 A10.2,10.2 0 0 1 595.3,184.0 Z" fill="none" stroke="#000" stroke-width="1.15" stroke-linejoin="miter" stroke-miterlimit="10"/>
<text x="659.7" y="211.2" font-size="19.36" text-anchor="middle" fill="#000" stroke="#000" stroke-width="0.55" stroke-linejoin="round" font-family='"Liberation Sans","IPAPGothic","IPAGothic","Noto Sans CJK JP",sans-serif'>橋の管理水準</text>
<text x="659.7" y="234.5" font-size="19.36" text-anchor="middle" fill="#000" stroke="#000" stroke-width="0.55" stroke-linejoin="round" font-family='"Liberation Sans","IPAPGothic","IPAGothic","Noto Sans CJK JP",sans-serif'>（基準改定）</text>
<polygon points="168.0,195.2 204.4,232.1 187.0,232.1 187.0,272.8 204.4,272.8 168.0,310.3 131.6,272.8 149.0,272.8 149.0,232.1 131.6,232.1" fill="#4472C4" stroke="#2F528F" stroke-width="1.3" stroke-linejoin="miter" />
<text x="167.8" y="233.0" font-size="20" font-weight="350" text-anchor="middle" fill="#111" font-family='"Liberation Sans","Noto Sans CJK JP",sans-serif' >安</text>
<text x="167.8" y="259.0" font-size="20" font-weight="350" text-anchor="middle" fill="#111" font-family='"Liberation Sans","Noto Sans CJK JP",sans-serif' >全</text>
<text x="167.8" y="285.8" font-size="20" font-weight="350" text-anchor="middle" fill="#111" font-family='"Liberation Sans","Noto Sans CJK JP",sans-serif' >域</text>
<polygon points="172.7,344.3 209.0,380.3 191.3,380.3 191.3,421.5 209.0,421.5 172.7,457.8 136.4,421.5 154.1,421.5 154.1,380.3 136.4,380.3" fill="#FFC000" stroke="#2F528F" stroke-width="1.3" stroke-linejoin="miter" />
<text x="172.5" y="380.90000000000003" font-size="20" font-weight="350" text-anchor="middle" fill="#111" font-family='"Liberation Sans","Noto Sans CJK JP",sans-serif' >危</text>
<text x="172.5" y="407.0" font-size="20" font-weight="350" text-anchor="middle" fill="#111" font-family='"Liberation Sans","Noto Sans CJK JP",sans-serif' >険</text>
<text x="172.5" y="433.8" font-size="20" font-weight="350" text-anchor="middle" fill="#111" font-family='"Liberation Sans","Noto Sans CJK JP",sans-serif' >域</text>
<polygon points="224.6,586.2 337.4,586.2 337.4,569.8 369.4,601.7 337.4,633.8 337.4,617.4 224.6,617.4" fill="url(#tg)" stroke="#0d1a33" stroke-width="1.2"/>
<text x="234.4" y="607.2" font-size="18.8" text-anchor="start" fill="#000" stroke="#000" stroke-width="0.75" stroke-linejoin="round" font-family='"Liberation Sans","IPAPGothic","IPAGothic","Noto Sans CJK JP",sans-serif'>時間軸</text>
<polygon points="853.3,472.7 898.3,485.8 904.3,474.2 918.6,484.7 941.4,466.3 939.3,483.2 965.1,480.8 954.6,489.8 982.4,491.8 960.6,499.7 986.1,508.8 955.4,507.6 963.6,523.8 938.8,512.8 933.9,528.6 917.1,513.9 905.1,534.3 900.9,515.8 882.2,522.3 888.5,510.3 852.5,512.8 877.3,503.3 852.8,493.7 882.5,490.3" fill="#FF0000" stroke="#2F528F" stroke-width="1.3" stroke-linejoin="miter" />
<text x="910.0" y="504.3" font-size="18.8" text-anchor="middle" fill="#000" stroke="#000" stroke-width="0.75" stroke-linejoin="round" font-family='"Liberation Sans","IPAPGothic","IPAGothic","Noto Sans CJK JP",sans-serif'>落橋</text>
<text x="775.3" y="62.3" font-size="16.6" text-anchor="start" fill="#FF0000" stroke="#FF0000" stroke-width="0.25" stroke-linejoin="round" font-family='"Liberation Sans","IPAPGothic","IPAGothic","Noto Sans CJK JP",sans-serif'>示方書改定など</text>
<text x="775.3" y="82.1" font-size="16.6" text-anchor="start" fill="#FF0000" stroke="#FF0000" stroke-width="0.25" stroke-linejoin="round" font-family='"Liberation Sans","IPAPGothic","IPAGothic","Noto Sans CJK JP",sans-serif'>時代の要求水</text>
<text x="775.3" y="101.9" font-size="16.6" text-anchor="start" fill="#FF0000" stroke="#FF0000" stroke-width="0.25" stroke-linejoin="round" font-family='"Liberation Sans","IPAPGothic","IPAGothic","Noto Sans CJK JP",sans-serif'>準は上がって<tspan letter-spacing="0.8">いく。</tspan></text>
<text x="775.3" y="121.7" font-size="16.6" text-anchor="start" fill="#FF0000" stroke="#FF0000" stroke-width="0.25" stroke-linejoin="round" font-family='"Liberation Sans","IPAPGothic","IPAGothic","Noto Sans CJK JP",sans-serif'>対応には<tspan letter-spacing="2.5">、</tspan>膨大な</text>
<text x="775.3" y="141.5" font-size="16.6" text-anchor="start" fill="#FF0000" stroke="#FF0000" stroke-width="0.25" stroke-linejoin="round" font-family='"Liberation Sans","IPAPGothic","IPAGothic","Noto Sans CJK JP",sans-serif'>費用</text>
<text x="768.0" y="340.3" font-size="16.6" text-anchor="start" fill="#FF0000" stroke="#FF0000" stroke-width="0.4" stroke-linejoin="round" font-family='"Liberation Sans","IPAPGothic","IPAGothic","Noto Sans CJK JP",sans-serif'>補修（修繕）はあくま</text>
<text x="768.0" y="360.7" font-size="16.6" text-anchor="start" fill="#FF0000" stroke="#FF0000" stroke-width="0.4" stroke-linejoin="round" font-family='"Liberation Sans","IPAPGothic","IPAGothic","Noto Sans CJK JP",sans-serif'>で、<tspan dx="2.2">手当</tspan><tspan font-family="IPAGothic,IPAPGothic,sans-serif">！</tspan><tspan letter-spacing="1.7">ｲﾆｼｬﾙ</tspan>の</text>
<text x="768.0" y="381.1" font-size="16.6" text-anchor="start" fill="#FF0000" stroke="#FF0000" stroke-width="0.4" stroke-linejoin="round" font-family='"Liberation Sans","IPAPGothic","IPAGothic","Noto Sans CJK JP",sans-serif'>状況には戻<tspan letter-spacing="0.9">らない</tspan><tspan font-family="IPAGothic,IPAPGothic,sans-serif">！</tspan></text>
</svg></body></html>
